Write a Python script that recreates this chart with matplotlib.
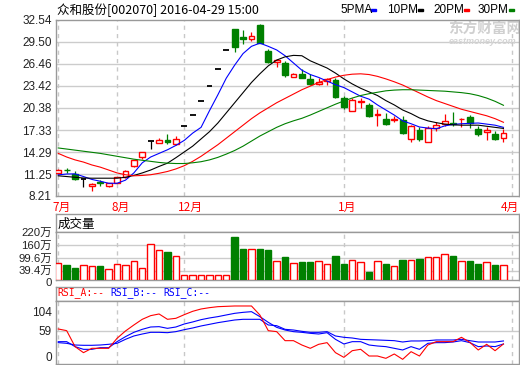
import matplotlib
matplotlib.use("Agg")
import matplotlib.pyplot as plt
from matplotlib.patches import Rectangle
from matplotlib.transforms import ScaledTranslation
import numpy as np

# ── data (weekly candles) ──────────────────────────────────────────────────
open_ = [11.36, 11.85, 11.27, 10.57, 9.60, 10.12, 9.66, 10.06, 10.81, 12.29,
         13.59, 15.86, 15.55, 15.90, 15.44, 17.85, 19.42, 21.40, 23.46, 25.77,
         28.46, 31.25, 30.20, 29.94, 31.80, 28.20, 26.80, 26.56, 24.66, 25.03,
         24.34, 23.64, 24.10, 24.20, 21.79, 19.93, 21.20, 20.76, 19.40, 18.92,
         18.70, 18.75, 16.13, 17.39, 15.67, 17.62, 18.22, 18.31, 18.80, 19.15,
         17.52, 17.07, 16.83, 16.23]
high = [11.90, 12.10, 11.73, 10.57, 9.95, 10.43, 10.05, 10.85, 11.80, 13.20,
        14.35, 15.86, 16.25, 16.83, 16.45, 17.85, 19.42, 21.40, 23.46, 25.77,
        28.46, 31.30, 31.20, 30.90, 32.00, 28.50, 27.16, 26.93, 25.20, 25.73,
        25.03, 24.48, 24.57, 24.57, 22.00, 21.79, 21.79, 21.10, 20.17, 19.71,
        19.33, 19.23, 18.08, 17.71, 17.85, 18.40, 19.57, 19.85, 19.00, 19.47,
        17.85, 17.76, 17.15, 17.52]
low = [11.30, 11.35, 10.45, 9.50, 8.95, 9.64, 9.50, 10.00, 10.75, 12.15,
       13.35, 14.70, 15.50, 15.40, 15.30, 17.85, 19.42, 21.40, 23.46, 25.77,
       28.46, 28.09, 29.20, 29.60, 29.30, 26.55, 26.10, 24.60, 24.60, 24.50,
       23.50, 23.55, 23.55, 21.80, 20.17, 19.93, 20.40, 19.10, 17.94, 17.98,
       18.40, 16.75, 15.67, 15.86, 15.67, 17.15, 17.85, 17.85, 17.70, 17.62,
       16.45, 15.99, 15.99, 15.67]
close = [11.82, 11.75, 10.57, 10.57, 9.88, 10.00, 10.00, 10.81, 11.73, 13.12,
         14.28, 15.86, 16.00, 15.62, 16.09, 17.85, 19.42, 21.40, 23.46, 25.77,
         28.46, 28.78, 29.90, 30.27, 29.34, 26.80, 26.95, 24.93, 25.13, 24.57,
         23.64, 24.02, 24.34, 21.93, 20.48, 21.46, 21.35, 19.33, 19.55, 18.22,
         18.82, 16.88, 17.85, 16.13, 17.62, 18.08, 18.64, 18.12, 18.92, 18.31,
         16.79, 17.39, 16.09, 16.93]

ma5 = [11.13, 11.25, 11.27, 10.90, 10.50, 10.25, 9.97, 9.97, 10.40, 11.40,
       12.80, 13.60, 14.10, 14.60, 15.20, 15.90, 16.90, 17.70, 20.00, 22.20,
       24.50, 26.30, 27.90, 28.90, 29.34, 28.90, 28.40, 27.60, 26.60, 25.60,
       25.00, 24.60, 24.10, 23.60, 23.20, 22.60, 22.00, 21.60, 20.80, 20.10,
       19.40, 18.60, 18.20, 17.75, 17.60, 17.50, 17.90, 18.10, 18.20, 18.25,
       18.30, 18.15, 18.00, 17.70]
ma10 = [11.00, 10.90, 10.80, 10.70, 10.67, 10.67, 10.67, 10.67, 10.80, 11.05,
        11.40, 11.80, 12.30, 12.75, 13.50, 14.30, 15.10, 16.10, 17.10, 18.30,
        19.70, 21.10, 22.50, 23.90, 25.10, 26.20, 27.00, 27.45, 27.65, 27.60,
        26.90, 26.40, 25.90, 25.20, 24.40, 23.70, 23.10, 22.60, 22.10, 21.40,
        20.80, 20.10, 19.60, 19.00, 18.60, 18.35, 18.15, 18.05, 18.00, 18.00,
        18.00, 17.85, 17.70, 17.55]
ma20 = [14.10, 13.60, 13.20, 12.90, 12.50, 12.20, 11.80, 11.40, 11.15, 11.00,
        11.05, 11.15, 11.35, 11.60, 11.95, 12.40, 13.00, 13.70, 14.50, 15.30,
        16.20, 17.10, 18.00, 18.90, 19.70, 20.40, 21.10, 21.70, 22.30, 22.90,
        23.40, 23.90, 24.30, 24.65, 24.90, 25.05, 25.10, 25.00, 24.75, 24.40,
        24.00, 23.55, 23.00, 22.45, 21.90, 21.40, 21.00, 20.60, 20.20, 19.90,
        19.60, 19.30, 18.90, 18.40]
ma30 = [14.85, 14.70, 14.55, 14.40, 14.25, 14.10, 13.90, 13.70, 13.50, 13.30,
        13.15, 13.00, 12.85, 12.75, 12.70, 12.70, 12.80, 12.95, 13.20, 13.55,
        14.00, 14.50, 15.10, 15.80, 16.50, 17.10, 17.70, 18.20, 18.60, 18.95,
        19.40, 19.90, 20.40, 20.90, 21.35, 21.75, 22.10, 22.35, 22.55, 22.75,
        22.85, 22.90, 22.90, 22.85, 22.80, 22.75, 22.70, 22.60, 22.50, 22.35,
        22.10, 21.75, 21.30, 20.75]

volume = [78, 69, 56, 69, 64, 64, 50, 73, 69, 87, 54, 164, 137, 128, 108,
          23, 23, 23, 23, 23, 23, 199, 144, 144, 142, 138, 87, 105, 78, 82,
          82, 87, 73, 110, 73, 92, 82, 37, 87, 73, 64, 92, 92, 96, 105, 105,
          118, 110, 87, 87, 73, 82, 69, 69]

rsi_a = [62.9, 59.0, 21.8, 7.8, 17.9, 17.9, 17.9, 41.2, 58.2, 72.2,
         85.4, 93.9, 97.8, 85.4, 87.7, 96.2, 104.0, 109.4, 112.5, 114.8,
         115.6, 116.4, 116.4, 116.4, 95.4, 59.0, 56.7, 35.7, 35.7, 25.6,
         17.9, 27.2, 31.1, 7.8, -3.1, 12.4, 15.6, 0.0, 0.0, -5.4,
         4.7, -7.7, 10.1, 0.0, 25.6, 33.4, 33.4, 33.4, 43.5, 31.8,
         14.0, 27.2, 12.4, 28.0]
rsi_b = [33.4, 33.4, 21.8, 15.5, 15.5, 19.4, 19.4, 33.4, 45.0, 55.1,
         62.1, 67.5, 68.3, 64.4, 67.5, 74.5, 79.2, 84.6, 88.5, 91.6,
         95.5, 99.3, 101.6, 103.2, 91.6, 78.4, 66.7, 60.5, 56.7, 55.1,
         52.8, 51.2, 54.3, 38.8, 28.0, 33.4, 33.4, 25.6, 23.3, 21.8,
         17.9, 14.0, 21.8, 15.5, 29.5, 31.1, 31.1, 32.6, 35.7, 31.1,
         21.8, 23.3, 21.8, 28.0]
rsi_c = [31.1, 29.5, 25.6, 24.9, 24.9, 25.6, 27.2, 29.5, 38.8, 46.6,
         51.2, 55.1, 55.1, 54.3, 56.7, 61.3, 65.2, 69.9, 73.7, 77.6,
         80.7, 83.8, 85.4, 85.4, 85.4, 72.2, 70.6, 62.1, 60.5, 57.4,
         55.1, 55.1, 56.7, 46.6, 43.5, 41.9, 38.8, 38.0, 37.3, 36.5,
         35.7, 32.6, 35.0, 35.0, 35.7, 37.3, 37.3, 37.3, 38.8, 35.7,
         32.6, 32.6, 32.6, 35.0]

month_labels = ["7月", "8月", "12月", "1月", "4月"]
month_pos = [0, 7, 15, 34, 54]
price_ticks = [8.21, 11.25, 14.29, 17.33, 20.38, 23.42, 26.46, 29.50, 32.54]
vol_ticks = [0, 39.4, 99.6, 160, 220]
vol_labels = ["0", "39.4万", "99.6万", "160万", "220万"]
rsi_ticks = [0, 59, 104]

# ── styling ────────────────────────────────────────────────────────────────
RED, GREEN, BLUE, BLACK = "#ff0000", "#008000", "#0000ff", "#000000"
GRID = "#cccccc"
BORDER = "#999999"
CJK = ["Noto Sans CJK SC", "DejaVu Sans"]
NUM = ["Liberation Sans", "Noto Sans CJK SC"]
TXT = "#222222"

W, H = 520, 365
fig = plt.figure(figsize=(W / 100, H / 100), dpi=100)
fig.patch.set_facecolor("white")
XLIM = (-0.27, 54.85)


def px_axes(left, top, right, bottom):
    return fig.add_axes([left / W, 1 - bottom / H, (right - left) / W, (bottom - top) / H])


def frame(ax):
    for s in ax.spines.values():
        s.set_color(BORDER)
        s.set_linewidth(1)
    ax.set_xticks([])
    ax.set_xlim(*XLIM)
    ax.tick_params(axis="y", length=0, pad=3, colors=TXT)


def vgrid(ax, ymin, ymax):
    ax.vlines([0] + month_pos[1:], ymin, ymax, colors="#c8c8c8", lw=1,
              linestyles=(0, (3, 3)), zorder=0)


def ylabels(ax, ticks, labels, size=8.5):
    ax.set_yticks(ticks)
    ax.set_yticklabels(labels, fontsize=size, family=NUM, color=TXT)


def nudge(label, dy_px):
    label.set_transform(label.get_transform() +
                        ScaledTranslation(0, dy_px / 100, fig.dpi_scale_trans))


x = np.arange(len(close))

# ── price panel ────────────────────────────────────────────────────────────
ax = px_axes(56, 20, 519, 196)
frame(ax)
ax.set_ylim(price_ticks[0], price_ticks[-1])
ylabels(ax, price_ticks, [f"{v:.2f}" for v in price_ticks])
for v in price_ticks[1:-1]:
    ax.axhline(v, color=GRID, lw=1, zorder=0)
vgrid(ax, price_ticks[0], price_ticks[-1])

bw = 0.7
for i in x:
    o, h, l, c = open_[i], high[i], low[i], close[i]
    if c > o:
        col = RED
    elif c < o:
        col = GREEN
    else:
        col = BLACK
    ax.vlines(i, l, h, color=col, lw=0.9, zorder=2)
    if c == o:
        ax.hlines(o, i - bw / 2, i + bw / 2, color=col, lw=1.3, zorder=3)
    else:
        fc = "white" if c > o else GREEN
        ax.add_patch(Rectangle((i - bw / 2, min(o, c)), bw, abs(c - o),
                               facecolor=fc, edgecolor=col, lw=1, zorder=3))

ax.plot(x, ma5, color=BLUE, lw=0.8, zorder=4)
ax.plot(x, ma10, color=BLACK, lw=0.8, zorder=4)
ax.plot(x, ma20, color=RED, lw=0.8, zorder=4)
ax.plot(x, ma30, color=GREEN, lw=0.8, zorder=4)

for lab, pos in zip(month_labels, month_pos):
    last = pos == month_pos[-1]
    ax.text(XLIM[1] if last else pos - 0.7, -0.065, lab, transform=ax.get_xaxis_transform(),
            color=RED, fontsize=8.5, family=CJK, ha="right" if last else "left",
            va="center", clip_on=False)

# watermark
ax.text(448 / W, 1 - 29 / H, "东方财富网", transform=fig.transFigure, color="#d0d0d0",
        fontsize=10.5, fontweight="bold", family=CJK, va="center", zorder=0.5)
ax.text(449 / W, 1 - 41 / H, "eastmoney.com", transform=fig.transFigure, color="#d4d4d4",
        fontsize=6.5, fontweight="bold", style="italic", family=NUM, va="center", zorder=0.5)

# title and legend
fig.text(57 / W, 1 - 10 / H, "众和股份[002070] 2016-04-29 15:00", fontsize=9,
         family=CJK, color=BLACK, va="center")
for lx, name, col in [(340, "5PMA", BLUE), (387, "10PM", BLACK),
                      (433, "20PM", RED), (478, "30PM", GREEN)]:
    fig.text(lx / W, 1 - 10 / H, name, fontsize=8.5, family=NUM, color=BLACK, va="center")
    fig.add_artist(Rectangle(((lx + 31) / W, 1 - 11 / H), 5 / W, 2 / H,
                             transform=fig.transFigure, color=col))

# ── volume panel ───────────────────────────────────────────────────────────
vh = px_axes(56, 214, 519, 232)
frame(vh)
vh.set_yticks([])
vh.text(0.003, 0.45, "成交量", transform=vh.transAxes, fontsize=9, family=CJK,
        color=BLACK, va="center", ha="left")

vax = px_axes(56, 232, 519, 280)
frame(vax)
vax.set_ylim(0, 220)
ylabels(vax, vol_ticks, vol_labels, size=8.2)
vlabs = vax.get_yticklabels()
nudge(vlabs[0], -2)
nudge(vlabs[1], 1.5)
for v in vol_ticks[1:-1]:
    vax.axhline(v, color=GRID, lw=1, zorder=0)
vgrid(vax, 0, 220)
vw = 0.76
for i in x:
    up = close[i] >= open_[i]
    vax.add_patch(Rectangle((i - vw / 2, 0), vw, volume[i],
                            facecolor="white" if up else GREEN,
                            edgecolor=RED if up else GREEN, lw=1, zorder=3))

# ── RSI panel ──────────────────────────────────────────────────────────────
rh = px_axes(56, 287, 519, 301)
frame(rh)
rh.set_yticks([])
for hx, lab, col in [(57, "RSI_A:--", RED), (110, "RSI_B:--", BLUE), (163, "RSI_C:--", BLUE)]:
    fig.text(hx / W, 1 - 293 / H, lab, fontsize=7, family="DejaVu Sans Mono",
             color=col, va="center")

rax = px_axes(56, 301, 519, 364)
frame(rax)
rax.set_ylim(-18.6, 128.0)
ylabels(rax, rsi_ticks, [str(v) for v in rsi_ticks])
rax.axhline(59, color=GRID, lw=1, zorder=0)
vgrid(rax, -18.6, 128.0)
rax.plot(x, rsi_c, color=BLUE, lw=0.8, zorder=3)
rax.plot(x, rsi_b, color=BLUE, lw=0.8, zorder=3)
rax.plot(x, rsi_a, color=RED, lw=0.8, zorder=4)

fig.savefig("out.png", dpi=100, facecolor="white")
